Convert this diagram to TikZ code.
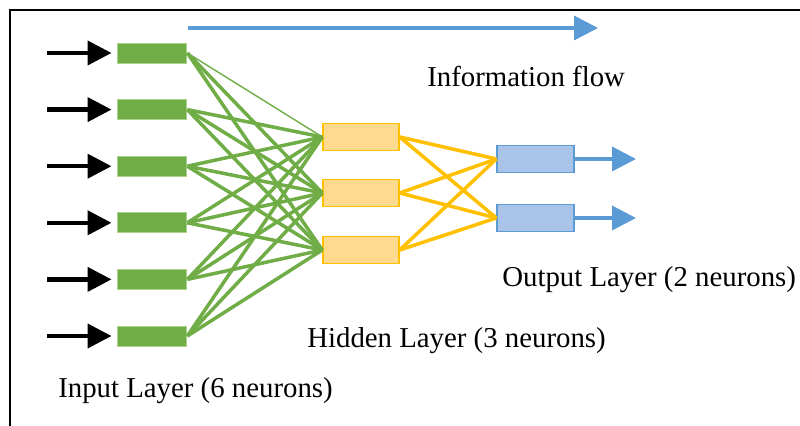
\documentclass[tikz,border=0pt]{standalone}
\usepackage{fontspec}
\setmainfont{Liberation Serif}
\usetikzlibrary{arrows.meta}

\definecolor{ingreen}{HTML}{70AD47}
\definecolor{inedge}{HTML}{A9D18E}
\definecolor{hidgold}{HTML}{FFC000}
\definecolor{hidfill}{HTML}{FFD98E}
\definecolor{outblue}{HTML}{5B9BD5}
\definecolor{outfill}{HTML}{A9C4E8}

\tikzset{
    inbox/.style={draw=inedge, fill=ingreen, line width=0.6pt, minimum width=1.725cm, minimum height=0.5cm, inner sep=0pt},
    hidbox/.style={draw=hidgold, fill=hidfill, line width=1pt, minimum width=1.9cm, minimum height=0.675cm, inner sep=0pt},
    outbox/.style={draw=outblue, fill=outfill, line width=1pt, minimum width=1.925cm, minimum height=0.675cm, inner sep=0pt},
    gline/.style={draw=ingreen, line width=2.5pt},
    hline/.style={draw=hidgold, line width=2.5pt},
    bigtip/.style={-{Triangle[length=17pt, width=17pt]}, line width=2.6pt},
    lbl/.style={anchor=base west, inner sep=0pt, font=\fontsize{20.5}{24}\selectfont}
}

\begin{document}
\begin{tikzpicture}
    \useasboundingbox (0,0) rectangle (20,10.65);
    \draw[line width=1.4pt] (0.25,0) -- (0.25,10.4) -- (20,10.4);

    % layers
    \node[inbox] (in1) at (3.81,9.325) {};
    \node[inbox] (in2) at (3.81,7.91) {};
    \node[inbox] (in3) at (3.81,6.495) {};
    \node[inbox] (in4) at (3.81,5.08) {};
    \node[inbox] (in5) at (3.81,3.665) {};
    \node[inbox] (in6) at (3.81,2.25) {};
    \node[hidbox] (hid1) at (9.025,7.225) {};
    \node[hidbox] (hid2) at (9.025,5.825) {};
    \node[hidbox] (hid3) at (9.025,4.4) {};
    \node[outbox] (out1) at (13.39,6.675) {};
    \node[outbox] (out2) at (13.39,5.2) {};

    % inputs
    \foreach \i in {1,...,6}
        \coordinate (src\i) at ([xshift=-1.75cm]in\i.west);
    \foreach \i in {1,...,6}
        \draw[bigtip, draw=black, fill=black, line width=3pt, shorten >=0.15cm] (src\i) -- (in\i.west);

    % connections
    \draw[draw=ingreen, line width=1pt] (in1.east) -- (hid1.west);
    \draw[gline] (in1.east) -- (hid2.west);
    \draw[gline] (in1.east) -- (hid3.west);
    \foreach \i in {2,...,6}
        \foreach \j in {1,2,3}
            \draw[gline] (in\i.east) -- (hid\j.west);
    \foreach \j in {1,2,3}
        \foreach \k in {1,2}
            \draw[hline] (hid\j.east) -- (out\k.west);

    % outputs
    \coordinate (dst1) at (15.9,6.675);
    \coordinate (dst2) at (15.9,5.2);
    \draw[bigtip, draw=outblue, fill=outblue] (out1.east) -- (dst1);
    \draw[bigtip, draw=outblue, fill=outblue] (out2.east) -- (dst2);

    % information flow
    \coordinate (flowa) at (4.7,9.95);
    \coordinate (flowb) at (14.95,9.95);
    \draw[bigtip, draw=outblue, fill=outblue] (flowa) -- (flowb);

    \node[lbl] (flowlbl) at (10.675,8.475) {Information flow};
    \node[lbl] (outlbl) at (12.55,3.475) {Output Layer (2 neurons)};
    \node[lbl] (hidlbl) at (7.675,1.95) {Hidden Layer (3 neurons)};
    \node[lbl] (inlbl) at (1.45,0.7) {Input Layer (6 neurons)};
\end{tikzpicture}
\end{document}
